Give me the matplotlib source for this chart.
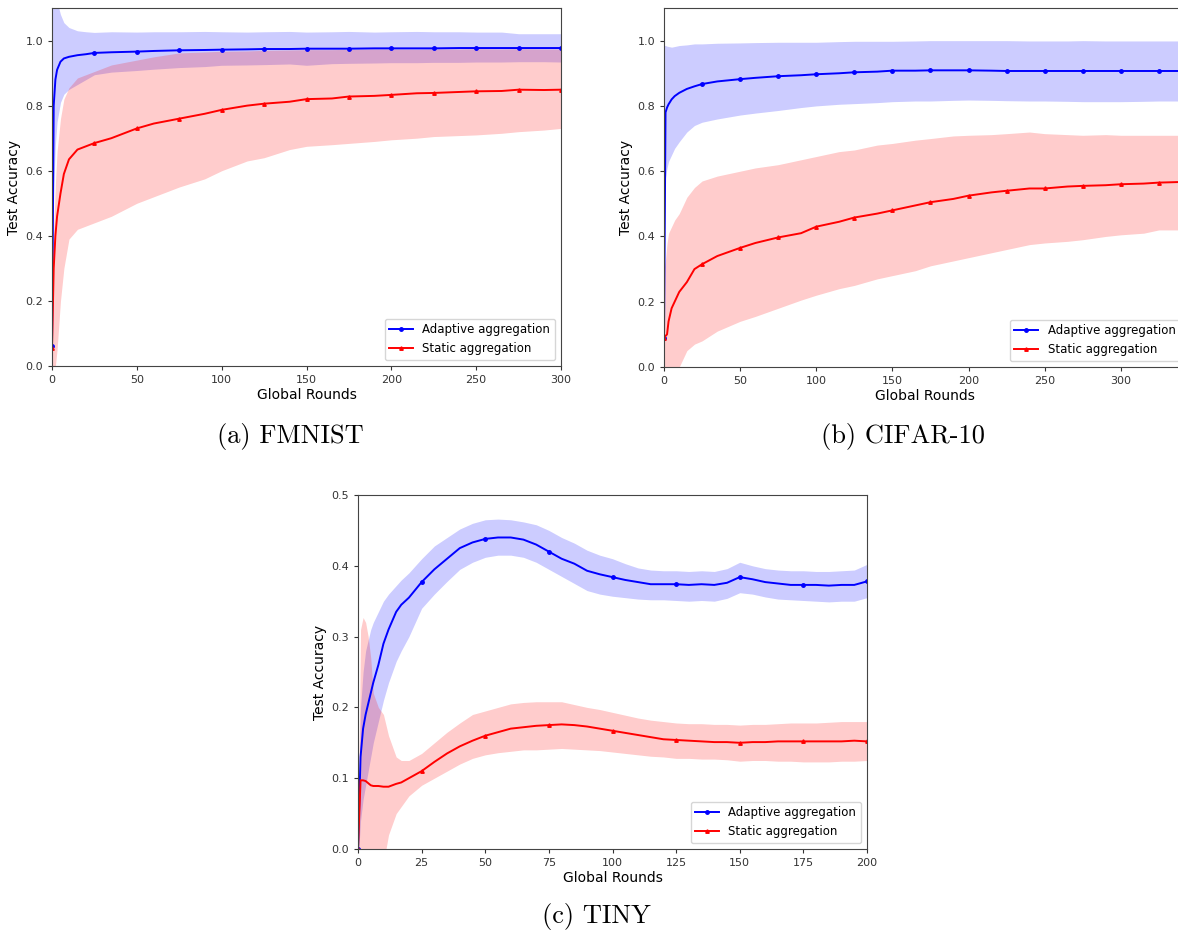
import matplotlib
matplotlib.use("Agg")
import matplotlib.pyplot as plt
import numpy as np

# ---------------- data ----------------
rounds_a = [0, 1, 2, 3, 5, 7, 10, 15, 20, 25, 35, 50, 60, 75, 90, 100, 115, 125, 140, 150,
            165, 175, 190, 200, 215, 225, 240, 250, 265, 275, 290, 300]
a_adapt_mean = [0.06, 0.80, 0.88, 0.91, 0.935, 0.945, 0.950, 0.955, 0.958, 0.962, 0.964, 0.966,
                0.968, 0.970, 0.971, 0.972, 0.973, 0.974, 0.974, 0.975, 0.975, 0.975, 0.976, 0.976,
                0.976, 0.976, 0.977, 0.977, 0.977, 0.977, 0.977, 0.977]
a_adapt_upper = [1.25, 1.20, 1.16, 1.12, 1.08, 1.055, 1.04, 1.03, 1.027, 1.025, 1.027, 1.026,
                 1.027, 1.027, 1.028, 1.027, 1.026, 1.027, 1.028, 1.026, 1.027, 1.028, 1.026, 1.027,
                 1.028, 1.027, 1.027, 1.026, 1.026, 1.021, 1.021, 1.021]
a_adapt_lower = [-0.1, 0.55, 0.68, 0.75, 0.81, 0.835, 0.85, 0.865, 0.88, 0.895, 0.903, 0.908,
                 0.912, 0.917, 0.92, 0.924, 0.925, 0.926, 0.928, 0.924, 0.929, 0.93, 0.931, 0.932,
                 0.932, 0.933, 0.933, 0.934, 0.934, 0.935, 0.935, 0.934]
a_static_mean = [0.055, 0.30, 0.40, 0.46, 0.53, 0.59, 0.635, 0.665, 0.675, 0.685, 0.70, 0.73,
                 0.745, 0.76, 0.775, 0.787, 0.80, 0.806, 0.812, 0.82, 0.822, 0.828, 0.83, 0.833,
                 0.838, 0.839, 0.842, 0.844, 0.845, 0.849, 0.848, 0.849]
a_static_upper = [0.10, 0.42, 0.56, 0.66, 0.76, 0.82, 0.855, 0.885, 0.895, 0.905, 0.925, 0.94,
                  0.95, 0.962, 0.965, 0.967, 0.968, 0.97, 0.971, 0.972, 0.972, 0.973, 0.974, 0.974,
                  0.973, 0.974, 0.974, 0.975, 0.974, 0.975, 0.974, 0.974]
a_static_lower = [-0.2, -0.1, 0.0, 0.05, 0.2, 0.3, 0.39, 0.42, 0.43, 0.44, 0.46, 0.50,
                  0.52, 0.55, 0.575, 0.60, 0.63, 0.64, 0.665, 0.675, 0.68, 0.684, 0.69, 0.695,
                  0.70, 0.705, 0.708, 0.71, 0.715, 0.72, 0.725, 0.73]

rounds_b = rounds_a + [315, 325, 340]
b_adapt_mean = [0.09, 0.78, 0.795, 0.805, 0.82, 0.83, 0.84, 0.852, 0.86, 0.867, 0.875, 0.882,
                0.886, 0.891, 0.894, 0.897, 0.900, 0.903, 0.905, 0.908, 0.908, 0.909, 0.909, 0.909,
                0.908, 0.907, 0.907, 0.907, 0.907, 0.907, 0.907, 0.907, 0.907, 0.907, 0.907]
b_adapt_upper = [0.985, 0.985, 0.983, 0.982, 0.98, 0.982, 0.985, 0.987, 0.99, 0.99, 0.992, 0.993,
                 0.994, 0.995, 0.995, 0.995, 0.997, 0.998, 0.998, 0.998, 0.999, 1.0, 1.0, 1.0,
                 1.0, 1.0, 0.999, 0.999, 0.999, 1.0, 0.999, 0.999, 0.999, 0.999, 0.999]
b_adapt_lower = [0.3, 0.58, 0.61, 0.63, 0.65, 0.67, 0.69, 0.72, 0.74, 0.75, 0.76, 0.772,
                 0.778, 0.786, 0.795, 0.80, 0.805, 0.807, 0.81, 0.813, 0.815, 0.815, 0.817, 0.818,
                 0.817, 0.816, 0.815, 0.815, 0.814, 0.813, 0.813, 0.813, 0.814, 0.815, 0.815]
b_static_mean = [0.09, 0.095, 0.10, 0.14, 0.18, 0.20, 0.23, 0.26, 0.30, 0.315, 0.34, 0.365,
                 0.38, 0.397, 0.41, 0.43, 0.445, 0.458, 0.47, 0.48, 0.495, 0.505, 0.515, 0.525,
                 0.535, 0.54, 0.547, 0.547, 0.553, 0.555, 0.557, 0.56, 0.562, 0.565, 0.567]
b_static_upper = [0.30, 0.33, 0.38, 0.41, 0.43, 0.45, 0.47, 0.52, 0.55, 0.57, 0.585, 0.60,
                  0.61, 0.62, 0.635, 0.645, 0.66, 0.665, 0.68, 0.685, 0.695, 0.70, 0.708, 0.71,
                  0.712, 0.715, 0.72, 0.715, 0.712, 0.71, 0.712, 0.71, 0.71, 0.71, 0.71]
b_static_lower = [-0.12, -0.1, -0.08, -0.06, -0.04, -0.02, 0.0, 0.05, 0.07, 0.08, 0.11, 0.14,
                  0.155, 0.18, 0.205, 0.22, 0.24, 0.25, 0.27, 0.28, 0.295, 0.31, 0.325, 0.335,
                  0.35, 0.36, 0.375, 0.38, 0.385, 0.39, 0.40, 0.405, 0.41, 0.42, 0.42]

rounds_c = [0, 1, 2, 3, 4, 5, 6, 8, 10, 12, 15, 17, 20, 25, 30, 35, 40, 45, 50, 55, 60, 65, 70,
            75, 80, 85, 90, 95, 100, 105, 110, 115, 120, 125, 130, 135, 140, 145, 150, 155, 160,
            165, 170, 175, 180, 185, 190, 195, 200]
c_adapt_mean = [0.0, 0.13, 0.17, 0.19, 0.205, 0.22, 0.235, 0.26, 0.29, 0.31, 0.335, 0.345, 0.355,
                0.377, 0.395, 0.41, 0.425, 0.433, 0.438, 0.44, 0.44, 0.437, 0.43, 0.42, 0.41,
                0.403, 0.393, 0.388, 0.384, 0.38, 0.377, 0.374, 0.374, 0.374, 0.373, 0.374, 0.373,
                0.376, 0.384, 0.381, 0.377, 0.375, 0.373, 0.373, 0.373, 0.372, 0.373, 0.373, 0.378]
c_adapt_upper = [0.02, 0.2, 0.25, 0.28, 0.295, 0.31, 0.32, 0.335, 0.35, 0.36, 0.372, 0.38, 0.39,
                 0.41, 0.428, 0.44, 0.452, 0.46, 0.465, 0.466, 0.465, 0.462, 0.458, 0.45, 0.44,
                 0.432, 0.422, 0.415, 0.41, 0.403, 0.397, 0.394, 0.393, 0.393, 0.392, 0.393, 0.392,
                 0.396, 0.405, 0.4, 0.396, 0.394, 0.393, 0.393, 0.392, 0.392, 0.393, 0.394, 0.402]
c_adapt_lower = [-0.02, 0.04, 0.07, 0.09, 0.11, 0.13, 0.15, 0.18, 0.21, 0.235, 0.265, 0.28, 0.3,
                 0.34, 0.36, 0.378, 0.395, 0.405, 0.412, 0.415, 0.415, 0.412, 0.405, 0.395, 0.385,
                 0.375, 0.365, 0.36, 0.357, 0.355, 0.353, 0.352, 0.352, 0.351, 0.35, 0.351, 0.35,
                 0.354, 0.362, 0.36, 0.356, 0.353, 0.352, 0.351, 0.35, 0.349, 0.35, 0.35, 0.355]
c_static_mean = [0.0, 0.097, 0.097, 0.096, 0.093, 0.09, 0.089, 0.089, 0.088, 0.088, 0.092, 0.094,
                 0.1, 0.11, 0.123, 0.135, 0.145, 0.153, 0.16, 0.165, 0.17, 0.172, 0.174, 0.175,
                 0.176, 0.175, 0.173, 0.17, 0.167, 0.164, 0.161, 0.158, 0.155, 0.154, 0.153, 0.152,
                 0.151, 0.151, 0.15, 0.151, 0.151, 0.152, 0.152, 0.152, 0.152, 0.152, 0.152, 0.153,
                 0.152]
c_static_upper = [0.0, 0.31, 0.327, 0.32, 0.30, 0.27, 0.22, 0.20, 0.19, 0.16, 0.13, 0.125, 0.125,
                  0.135, 0.15, 0.165, 0.178, 0.19, 0.195, 0.2, 0.205, 0.207, 0.208, 0.208, 0.208,
                  0.204, 0.2, 0.197, 0.193, 0.189, 0.185, 0.182, 0.18, 0.178, 0.177, 0.177, 0.176,
                  0.176, 0.175, 0.176, 0.176, 0.177, 0.178, 0.178, 0.178, 0.179, 0.18, 0.18, 0.18]
c_static_lower = [-0.1, -0.11, -0.12, -0.12, -0.11, -0.1, -0.08, -0.05, -0.02, 0.02, 0.05, 0.06,
                  0.075, 0.09, 0.1, 0.11, 0.12, 0.128, 0.133, 0.136, 0.138, 0.14, 0.14, 0.141,
                  0.142, 0.141, 0.14, 0.139, 0.137, 0.135, 0.133, 0.131, 0.13, 0.128, 0.128, 0.127,
                  0.127, 0.126, 0.124, 0.125, 0.125, 0.124, 0.124, 0.123, 0.123, 0.123, 0.124,
                  0.124, 0.125]

series_labels = ["Adaptive aggregation", "Static aggregation"]
captions = ["(a) FMNIST", "(b) CIFAR-10", "(c) TINY"]

# ---------------- figure ----------------
W, H = 1178, 934
fig = plt.figure(figsize=(W / 100, H / 100), dpi=100)


def px_axes(left, top, right, bottom):
    return fig.add_axes([left / W, 1 - bottom / H, (right - left) / W, (bottom - top) / H])


def draw(ax, x, am, au, al, sm, su, sl, xlim, ylim, yticks, xticks):
    x = np.asarray(x)
    marks = [i for i, v in enumerate(x) if v % 25 == 0]
    ax.fill_between(x, al, au, color="blue", alpha=0.2, linewidth=0)
    ax.fill_between(x, sl, su, color="red", alpha=0.2, linewidth=0)
    ax.plot(x, am, color="blue", lw=1.4, marker="o", ms=2.5, markevery=marks,
            label=series_labels[0])
    ax.plot(x, sm, color="red", lw=1.4, marker="^", ms=2.5, markevery=marks,
            label=series_labels[1])
    ax.set_xlim(*xlim)
    ax.set_ylim(*ylim)
    ax.set_yticks(yticks)
    ax.set_xticks(xticks)
    ax.tick_params(labelsize=8, colors="#333333", length=3)
    for s in ax.spines.values():
        s.set_color("#444444")
    ax.set_xlabel("Global Rounds", fontsize=10, labelpad=2)
    ax.set_ylabel("Test Accuracy", fontsize=10, labelpad=3)
    ax.legend(loc="lower right", fontsize=8.5, handlelength=2.0)


ax_a = px_axes(52, 8, 561, 366)
draw(ax_a, rounds_a, a_adapt_mean, a_adapt_upper, a_adapt_lower,
     a_static_mean, a_static_upper, a_static_lower,
     (0, 300), (0, 1.1), np.arange(0, 1.01, 0.2), np.arange(0, 301, 50))

ax_b = px_axes(664, 8, 1186, 367)
draw(ax_b, rounds_b, b_adapt_mean, b_adapt_upper, b_adapt_lower,
     b_static_mean, b_static_upper, b_static_lower,
     (0, 342.8), (0, 1.1), np.arange(0, 1.01, 0.2), np.arange(0, 301, 50))

ax_c = px_axes(358, 495, 867, 849)
draw(ax_c, rounds_c, c_adapt_mean, c_adapt_upper, c_adapt_lower,
     c_static_mean, c_static_upper, c_static_lower,
     (0, 200), (0, 0.5), np.arange(0, 0.51, 0.1), np.arange(0, 201, 25))

cap_kw = dict(ha="center", va="center", fontsize=19, family="cmr10")
fig.text(290 / W, 1 - 437 / H, captions[0], **cap_kw)
fig.text(903 / W, 1 - 437 / H, captions[1], **cap_kw)
fig.text(596 / W, 1 - 917 / H, captions[2], **cap_kw)

fig.savefig("out.png", dpi=100)
